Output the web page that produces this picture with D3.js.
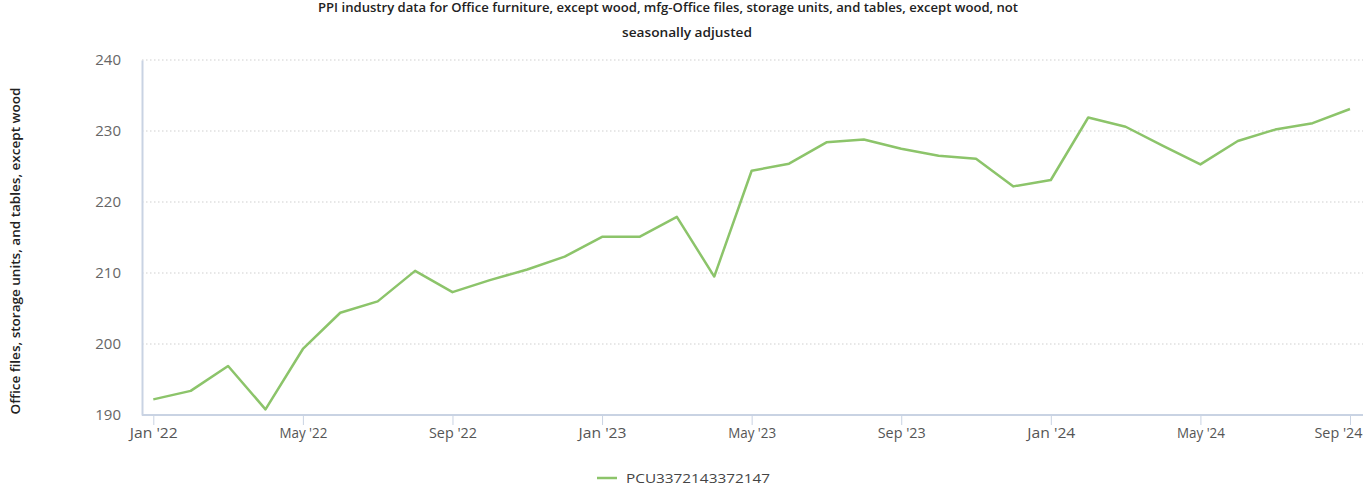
<!DOCTYPE html>
<html><head><meta charset="utf-8">
<script src="https://cdn.jsdelivr.net/npm/d3@7"></script>
<style>body{margin:0;background:#fff}svg{display:block}</style>
</head><body>
<svg id="c" width="1372" height="486"></svg>
<script>
const months = ["Jan '22","Feb '22","Mar '22","Apr '22","May '22","Jun '22","Jul '22","Aug '22","Sep '22","Oct '22","Nov '22","Dec '22",
"Jan '23","Feb '23","Mar '23","Apr '23","May '23","Jun '23","Jul '23","Aug '23","Sep '23","Oct '23","Nov '23","Dec '23",
"Jan '24","Feb '24","Mar '24","Apr '24","May '24","Jun '24","Jul '24","Aug '24","Sep '24"];
const values = [192.2,193.4,196.9,190.8,199.3,204.4,206.0,210.3,207.3,209.0,210.5,212.3,
215.1,215.1,217.9,209.5,224.4,225.4,228.4,228.8,227.5,226.5,226.1,222.2,
223.1,231.9,230.6,227.9,225.3,228.6,230.2,231.1,233.1];
const xTickLabels = ["Jan '22","May '22","Sep '22","Jan '23","May '23","Sep '23","Jan '24","May '24","Sep '24"];
const yTicks = [190,200,210,220,230,240];
const seriesName = "PCU3372143372147";
const title1 = "PPI industry data for Office furniture, except wood, mfg-Office files, storage units, and tables, except wood, not";
const title2 = "seasonally adjusted";
const yLabel = "Office files, storage units, and tables, except wood";

(function(){
const svg = d3.select("#c");
const font = "'Open Sans', 'Liberation Sans', sans-serif";
const pL = 142, pR = 1363, pT = 60, pB = 415;
const x = d3.scaleLinear().domain([0, months.length - 1]).range([153.3, 1350]);
const y = d3.scaleLinear().domain([190, 240]).range([pB, pT]);

// title
svg.append("text").attr("x", 668).attr("y", 12).attr("text-anchor","middle")
  .attr("font-family", font).attr("font-size", 12).attr("font-weight", 600).attr("fill","#222")
  .attr("textLength", 700).attr("lengthAdjust","spacingAndGlyphs").text(title1);
svg.append("text").attr("x", 687).attr("y", 37).attr("text-anchor","middle")
  .attr("font-family", font).attr("font-size", 12).attr("font-weight", 600).attr("fill","#222")
  .attr("textLength", 130).attr("lengthAdjust","spacingAndGlyphs").text(title2);

// gridlines
svg.append("g").selectAll("line").data(yTicks.filter(d=>d>190)).join("line")
  .attr("x1", pL).attr("x2", pR).attr("y1", d=>y(d)).attr("y2", d=>y(d))
  .attr("stroke","#cfcfcf").attr("stroke-width",1).attr("stroke-dasharray","1.5,2.5");

// y axis
const ya = svg.append("g").attr("transform", `translate(${pL},0)`)
  .call(d3.axisLeft(y).tickValues(yTicks).tickSize(0).tickPadding(21).tickFormat(d3.format("d")));
ya.select(".domain").attr("stroke","#c9d3e3").attr("stroke-width",2);
ya.selectAll("text").attr("font-family", font).attr("font-size", 15).attr("fill","#666");

// x axis
const tickIdx = xTickLabels.map(l => months.indexOf(l));
const xa = svg.append("g").attr("transform", `translate(0,${pB})`)
  .call(d3.axisBottom(x).tickValues(tickIdx).tickSize(10).tickPadding(3).tickFormat(i => months[i]));
xa.select(".domain").attr("d", `M${pL},0H${pR}`).attr("stroke","#c9d3e3").attr("stroke-width",2);
xa.selectAll(".tick line").attr("stroke","#c9d3e3");
xa.selectAll("text").attr("font-family", font).attr("font-size", 14).attr("fill","#555")
  .attr("textLength", 48).attr("lengthAdjust","spacingAndGlyphs");
xa.selectAll(".tick").filter(d => d === months.length - 1).select("text")
  .attr("text-anchor","end").attr("x", 12);

// y label
svg.append("text").attr("transform", `translate(20,251) rotate(-90)`)
  .attr("text-anchor","middle").attr("font-family", font).attr("font-size", 12).attr("font-weight", 600)
  .attr("fill","#222").attr("textLength", 327).attr("lengthAdjust","spacingAndGlyphs").text(yLabel);

// line
svg.append("path").datum(values)
  .attr("d", d3.line().x((d,i)=>x(i)).y(d=>y(d)))
  .attr("fill","none").attr("stroke","#8cc46a").attr("stroke-width",2.5).attr("stroke-linejoin","round");

// legend
svg.append("line").attr("x1",597).attr("x2",617).attr("y1",478).attr("y2",478)
  .attr("stroke","#8cc46a").attr("stroke-width",2.5);
svg.append("text").attr("x",626).attr("y",478).attr("dy","0.35em").attr("font-family", font).attr("font-size", 13)
  .attr("fill","#444").attr("textLength", 144).attr("lengthAdjust","spacingAndGlyphs").text(seriesName);
})();
</script>
</body></html>
